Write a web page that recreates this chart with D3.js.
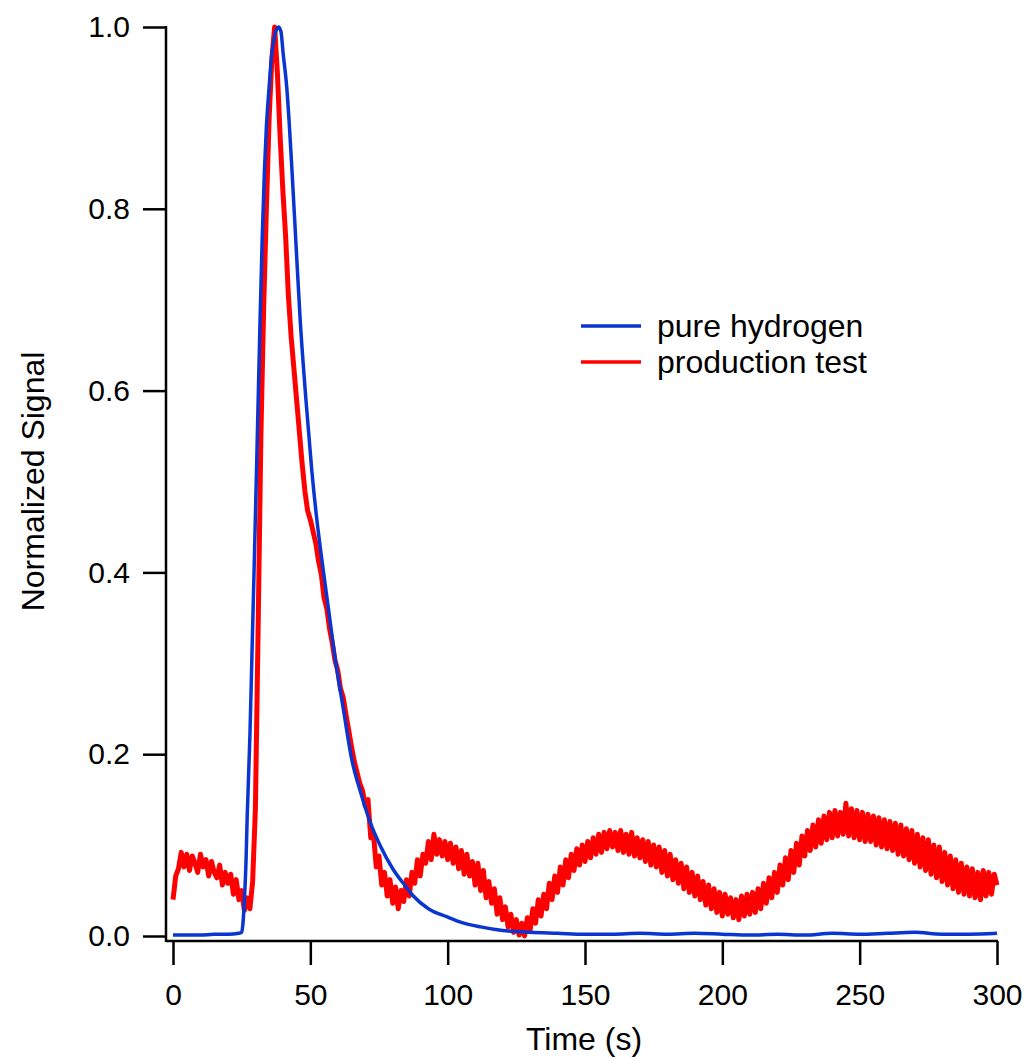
<!DOCTYPE html>
<html>
<head>
<meta charset="utf-8">
<script src="https://cdn.jsdelivr.net/npm/d3@7"></script>
<style>
  body { margin: 0; background: #fff; }
  svg { display: block; font-family: "Liberation Sans", Arial, sans-serif; }
  .axis text { font-size: 30px; fill: #000; }
  .axis line { stroke: #000; stroke-width: 2.5; }
  .label { font-size: 32px; fill: #000; }
</style>
</head>
<body>
<svg width="1029" height="1059"></svg>
<script>
// pure hydrogen trace (time in s, normalized signal)
var blueTime = [0, 5, 10, 15, 20, 24, 25, 25.5, 26, 26.6, 27, 28, 28.7, 29.5, 30.5, 31.7, 32.5, 33.3, 34, 35, 36, 37, 38.4,
  39.3, 40.1, 41.4, 42.3, 43.3, 44.8, 46.3, 48.4, 50.5, 52.3, 54.2, 56.6, 59.1, 62, 65.1, 68.3, 71.8, 75.5, 80, 84.6,
  87.5, 93, 99.8, 105, 112, 120, 130, 140, 150, 160, 170, 180, 190, 200, 210, 220, 230, 240, 250, 260, 270, 280, 290, 300];
var blueSignal = [0.001, 0.001, 0.001, 0.002, 0.002, 0.003, 0.004, 0.015, 0.04, 0.084, 0.13, 0.22, 0.304, 0.40, 0.524, 0.678, 0.77, 0.843, 0.89, 0.934, 0.971, 0.99, 1.0,
  0.995, 0.971, 0.934, 0.895, 0.843, 0.76, 0.678, 0.59, 0.513, 0.46, 0.414, 0.36, 0.304, 0.25, 0.194, 0.158, 0.125, 0.099, 0.074, 0.055,
  0.044, 0.03, 0.021, 0.015, 0.01, 0.006, 0.004, 0.003, 0.002, 0.002, 0.003, 0.002, 0.003, 0.002, 0.001, 0.002, 0.001, 0.003, 0.002, 0.003, 0.004, 0.002, 0.002, 0.003];

// production test trace, one sample per second from 0 to 300 s
var redSignal = [
  0.040, 0.066, 0.074, 0.092, 0.076, 0.090, 0.072, 0.088, 0.080, 0.070,
  0.090, 0.076, 0.084, 0.066, 0.082, 0.070, 0.064, 0.078, 0.056, 0.070,
  0.058, 0.068, 0.046, 0.062, 0.040, 0.050, 0.028, 0.042, 0.030, 0.060,
  0.140, 0.340, 0.550, 0.690, 0.800, 0.900, 0.965, 1.000, 0.950, 0.880,
  0.820, 0.770, 0.705, 0.660, 0.625, 0.590, 0.555, 0.520, 0.490, 0.468,
  0.458, 0.445, 0.432, 0.412, 0.398, 0.372, 0.360, 0.338, 0.322, 0.303,
  0.292, 0.272, 0.262, 0.243, 0.226, 0.208, 0.192, 0.180, 0.168, 0.160,
  0.143, 0.150, 0.108, 0.112, 0.076, 0.088, 0.056, 0.070, 0.044, 0.062,
  0.036, 0.054, 0.030, 0.050, 0.038, 0.062, 0.044, 0.070, 0.058, 0.084,
  0.066, 0.090, 0.080, 0.104, 0.084, 0.112, 0.090, 0.106, 0.088, 0.104,
  0.084, 0.102, 0.080, 0.098, 0.074, 0.094, 0.068, 0.090, 0.066, 0.082,
  0.056, 0.080, 0.050, 0.072, 0.042, 0.060, 0.036, 0.052, 0.024, 0.042,
  0.018, 0.032, 0.010, 0.024, 0.004, 0.018, 0.001, 0.014, 0.000, 0.020,
  0.006, 0.030, 0.014, 0.040, 0.022, 0.046, 0.030, 0.058, 0.040, 0.066,
  0.048, 0.076, 0.056, 0.084, 0.064, 0.090, 0.072, 0.096, 0.078, 0.100,
  0.082, 0.104, 0.086, 0.108, 0.090, 0.112, 0.092, 0.114, 0.096, 0.116,
  0.098, 0.114, 0.094, 0.116, 0.092, 0.112, 0.090, 0.114, 0.088, 0.108,
  0.086, 0.106, 0.082, 0.104, 0.078, 0.100, 0.076, 0.098, 0.070, 0.094,
  0.066, 0.090, 0.062, 0.084, 0.058, 0.080, 0.052, 0.076, 0.048, 0.070,
  0.044, 0.066, 0.040, 0.060, 0.034, 0.056, 0.030, 0.052, 0.026, 0.048,
  0.022, 0.046, 0.024, 0.042, 0.020, 0.040, 0.018, 0.044, 0.022, 0.046,
  0.024, 0.048, 0.026, 0.052, 0.030, 0.058, 0.036, 0.064, 0.042, 0.070,
  0.048, 0.078, 0.056, 0.086, 0.062, 0.094, 0.070, 0.102, 0.078, 0.110,
  0.088, 0.116, 0.094, 0.122, 0.098, 0.128, 0.102, 0.132, 0.106, 0.136,
  0.108, 0.138, 0.110, 0.136, 0.112, 0.146, 0.110, 0.140, 0.108, 0.138,
  0.106, 0.136, 0.104, 0.134, 0.104, 0.132, 0.100, 0.130, 0.098, 0.128,
  0.096, 0.126, 0.094, 0.124, 0.090, 0.122, 0.088, 0.118, 0.084, 0.116,
  0.080, 0.112, 0.076, 0.108, 0.072, 0.106, 0.068, 0.100, 0.064, 0.098,
  0.060, 0.092, 0.056, 0.088, 0.052, 0.084, 0.048, 0.080, 0.046, 0.076,
  0.044, 0.074, 0.042, 0.070, 0.040, 0.072, 0.044, 0.070, 0.046, 0.068,
  0.056
];

var xTicks = [0, 50, 100, 150, 200, 250, 300];
var yTicks = [0, 0.2, 0.4, 0.6, 0.8, 1.0];
var seriesNames = ["pure hydrogen", "production test"];
var seriesColors = ["#0a35d0", "#ff0000"];

var svg = d3.select("svg");

var x = d3.scaleLinear().domain([0, 300]).range([173, 997]);
var y = d3.scaleLinear().domain([0, 1]).range([936, 27]);

var blueData = blueTime.map(function (t, i) { return [t, blueSignal[i]]; });
var redData = redSignal.map(function (v, i) { return [i, v]; });

var line = d3.line()
  .x(function (d) { return x(d[0]); })
  .y(function (d) { return y(d[1]); });

// red first so the blue trace sits on top like the original
svg.append("path")
  .datum(redData)
  .attr("fill", "none")
  .attr("stroke", seriesColors[1])
  .attr("stroke-width", 5)
  .attr("stroke-linejoin", "round")
  .attr("d", line);

svg.append("path")
  .datum(blueData)
  .attr("fill", "none")
  .attr("stroke", seriesColors[0])
  .attr("stroke-width", 3.5)
  .attr("stroke-linejoin", "round")
  .attr("d", line.curve(d3.curveMonotoneX));

// axes sit a little off the data area (Igor style)
var axisX = x(0) - 7, axisY = y(0) + 5;

var gx = svg.append("g")
  .attr("class", "axis")
  .attr("transform", "translate(0," + axisY + ")")
  .call(d3.axisBottom(x).tickValues(xTicks).tickSize(24).tickPadding(19).tickSizeOuter(0));
gx.select(".domain").remove();

var gy = svg.append("g")
  .attr("class", "axis")
  .attr("transform", "translate(" + axisX + ",0)")
  .call(d3.axisLeft(y).tickValues(yTicks).tickFormat(d3.format(".1f")).tickSize(23).tickPadding(13).tickSizeOuter(0));
gy.select(".domain").remove();

svg.append("line")
  .attr("x1", axisX).attr("x2", x(300) + 1)
  .attr("y1", axisY).attr("y2", axisY)
  .attr("stroke", "#000").attr("stroke-width", 2.5);
svg.append("line")
  .attr("x1", axisX).attr("x2", axisX)
  .attr("y1", y(1) - 1).attr("y2", axisY + 1)
  .attr("stroke", "#000").attr("stroke-width", 2.5);

svg.append("text")
  .attr("class", "label")
  .attr("x", (x(0) + x(300)) / 2 - 1)
  .attr("y", 1050)
  .attr("text-anchor", "middle")
  .text("Time (s)");

svg.append("text")
  .attr("class", "label")
  .attr("transform", "translate(44," + y(0.5) + ") rotate(-90)")
  .attr("text-anchor", "middle")
  .text("Normalized Signal");

// legend
var legend = svg.append("g").attr("transform", "translate(581,326)");
seriesNames.forEach(function (name, i) {
  legend.append("line")
    .attr("x1", 0).attr("x2", 60)
    .attr("y1", i * 36).attr("y2", i * 36)
    .attr("stroke", seriesColors[i])
    .attr("stroke-width", 3.5);
  legend.append("text")
    .attr("class", "label")
    .attr("x", 76)
    .attr("y", i * 36 + 11)
    .text(name);
});
</script>
</body>
</html>
